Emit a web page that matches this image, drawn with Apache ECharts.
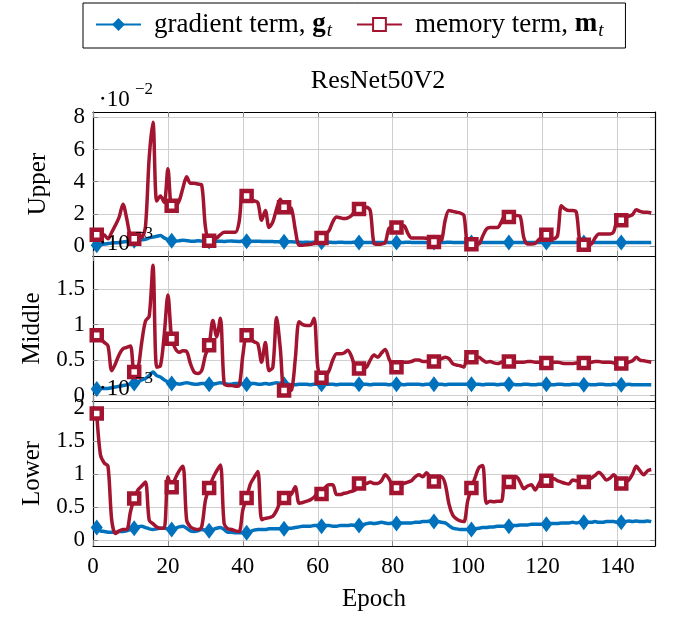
<!DOCTYPE html>
<html>
<head>
<meta charset="utf-8">
<script src="https://cdn.jsdelivr.net/npm/echarts@6/dist/echarts.min.js"></script>
<style>html,body{margin:0;padding:0;background:#fff}#c{width:673px;height:620px}</style>
</head>
<body>
<div id="c"></div>
<script>
// Epochs 1..149, markers every 10 epochs (1, 11, 21, ...)
const epochStart = 1;
const xTicks = [0, 20, 40, 60, 80, 100, 120, 140];
const upperTicks = [0, 2, 4, 6, 8];
const middleTicks = [0, 0.5, 1, 1.5];
const lowerTicks = [0, 0.5, 1, 1.5, 2];
const panelNames = ['Upper', 'Middle', 'Lower'];
const scaleLabels = ['\u22C510', '\u22C510', '\u22C510'];
const scaleExps = ['\u22122', '\u22123', '\u22123'];

// Upper panel (x 1e-2)
const upperGrad = [0.05,0.1,0.12,0.15,0.18,0.2,0.22,0.25,0.27,0.3,0.32,0.35,0.38,0.42,0.5,0.55,0.6,0.65,0.5,0.4,
0.32,0.3,0.32,0.35,0.33,0.3,0.3,0.32,0.3,0.28,0.27,0.28,0.3,0.29,0.28,0.3,0.31,0.29,0.28,0.3,
0.29,0.28,0.29,0.3,0.28,0.27,0.28,0.27,0.26,0.27,0.26,0.25,0.26,0.24,0.23,0.22,0.23,0.22,0.23,0.24,
0.23,0.22,0.23,0.22,0.22,0.23,0.22,0.21,0.22,0.23,0.22,0.22,0.21,0.22,0.22,0.21,0.22,0.22,0.21,0.22,
0.22,0.21,0.22,0.23,0.22,0.21,0.22,0.22,0.21,0.21,0.22,0.22,0.21,0.22,0.23,0.22,0.21,0.22,0.21,0.21,
0.22,0.21,0.22,0.22,0.21,0.22,0.22,0.21,0.21,0.22,0.22,0.21,0.22,0.22,0.21,0.21,0.22,0.22,0.21,0.21,
0.22,0.22,0.21,0.22,0.21,0.22,0.22,0.21,0.21,0.22,0.22,0.21,0.22,0.22,0.21,0.21,0.22,0.22,0.21,0.21,
0.22,0.21,0.22,0.22,0.21,0.22,0.22,0.21,0.22];
const upperMem = [0.7,0.72,0.68,0.45,0.85,1.3,1.8,2.6,1.7,0.6,
0.45,0.75,0.55,1.2,5.5,7.7,2.8,3.1,2.7,4.8,
2.5,2.5,2.8,3.6,4.3,3.9,3.9,3.85,3.8,1.2,
0.33,0.4,0.5,0.7,0.85,0.85,0.85,0.85,1.5,3.45,
3.1,2.9,2.8,2.7,1.6,2.2,1.15,1.5,2.3,2.9,
2.4,2.4,2.3,1.0,0.05,0.05,0.08,0.1,0.15,0.4,
0.5,0.7,0.95,1.5,1.8,1.75,1.7,1.75,1.9,2.2,
2.3,2.35,2.4,2.2,0.15,0.1,0.12,0.2,1.1,1.15,
1.15,1.2,1.25,0.8,0.5,0.5,0.5,0.5,0.48,0.45,
0.25,0.28,0.33,1.6,2.2,2.15,2.1,2.05,1.9,0.12,
0.1,0.1,0.12,0.6,1.05,1.15,1.15,1.15,1.5,1.9,
1.8,1.85,1.9,1.85,0.5,0.12,0.12,0.15,0.4,0.55,
0.7,0.5,0.45,0.65,2.5,2.3,2.2,2.2,2.1,0.2,
0.08,0.1,0.12,0.5,0.75,0.75,0.75,0.75,0.9,1.6,
1.6,1.75,1.85,1.95,2.25,2.15,2.1,2.1,2.05];

// Middle panel (x 1e-3)
const middleGrad = [0.09,0.1,0.1,0.1,0.11,0.12,0.13,0.14,0.15,0.16,0.17,0.19,0.22,0.24,0.28,0.33,0.28,0.26,0.22,0.19,
0.17,0.17,0.16,0.17,0.18,0.17,0.16,0.16,0.17,0.17,0.16,0.16,0.17,0.18,0.17,0.16,0.16,0.17,0.17,0.16,
0.16,0.17,0.17,0.16,0.16,0.17,0.16,0.17,0.18,0.17,0.16,0.16,0.15,0.15,0.16,0.16,0.16,0.15,0.16,0.16,
0.16,0.16,0.16,0.16,0.15,0.16,0.16,0.16,0.16,0.15,0.16,0.16,0.16,0.15,0.16,0.16,0.16,0.16,0.15,0.16,
0.16,0.16,0.15,0.16,0.16,0.16,0.16,0.15,0.16,0.16,0.16,0.16,0.16,0.15,0.16,0.16,0.16,0.16,0.16,0.16,
0.16,0.16,0.16,0.15,0.16,0.16,0.16,0.15,0.16,0.16,0.16,0.16,0.15,0.15,0.16,0.16,0.15,0.15,0.16,0.16,
0.16,0.15,0.15,0.16,0.16,0.15,0.15,0.16,0.16,0.15,0.15,0.16,0.15,0.15,0.16,0.16,0.15,0.15,0.16,0.15,
0.15,0.15,0.16,0.15,0.15,0.15,0.15,0.15,0.15];
const middleMem = [0.85,0.8,0.75,0.7,0.35,0.45,0.58,0.66,0.68,0.7,
0.33,0.38,0.75,1.05,1.12,1.84,0.4,0.42,0.85,1.42,
0.8,0.66,0.61,0.63,0.62,0.45,0.33,0.31,0.35,0.57,
0.71,1.06,0.83,1.09,0.17,0.14,0.14,0.13,0.14,0.57,
0.85,0.8,0.76,0.73,0.47,0.75,0.35,0.4,1.1,0.66,
0.07,0.07,0.08,0.52,1.04,1.0,0.99,0.99,1.09,0.4,
0.25,0.27,0.35,0.5,0.59,0.59,0.6,0.64,0.55,0.4,
0.38,0.38,0.4,0.5,0.57,0.54,0.6,0.65,0.52,0.42,
0.4,0.45,0.47,0.47,0.48,0.5,0.5,0.48,0.48,0.48,
0.48,0.5,0.52,0.54,0.52,0.45,0.43,0.42,0.4,0.59,
0.54,0.54,0.54,0.5,0.47,0.48,0.46,0.45,0.47,0.48,
0.48,0.48,0.47,0.47,0.47,0.48,0.48,0.47,0.47,0.46,
0.46,0.46,0.47,0.47,0.46,0.45,0.45,0.45,0.46,0.46,
0.46,0.46,0.47,0.48,0.48,0.47,0.47,0.47,0.46,0.45,
0.45,0.46,0.47,0.49,0.54,0.5,0.49,0.48,0.47];

// Lower panel (x 1e-3)
const lowerGrad = [0.19,0.14,0.13,0.12,0.12,0.12,0.13,0.13,0.14,0.16,0.18,0.2,0.21,0.19,0.17,0.16,0.17,0.18,0.18,0.17,
0.16,0.18,0.2,0.21,0.18,0.14,0.13,0.14,0.16,0.15,0.14,0.16,0.18,0.19,0.16,0.12,0.12,0.11,0.11,0.11,
0.11,0.13,0.15,0.16,0.16,0.16,0.17,0.17,0.17,0.17,0.17,0.18,0.18,0.19,0.2,0.21,0.21,0.21,0.22,0.22,
0.21,0.22,0.22,0.21,0.21,0.22,0.22,0.22,0.23,0.22,0.22,0.23,0.25,0.26,0.25,0.26,0.27,0.26,0.25,0.26,
0.25,0.26,0.26,0.26,0.26,0.27,0.27,0.28,0.28,0.29,0.28,0.28,0.27,0.26,0.22,0.18,0.17,0.16,0.16,0.16,
0.16,0.17,0.18,0.19,0.19,0.2,0.2,0.21,0.21,0.21,0.21,0.22,0.22,0.23,0.23,0.23,0.24,0.24,0.24,0.24,
0.24,0.25,0.25,0.25,0.26,0.26,0.26,0.27,0.26,0.27,0.27,0.27,0.27,0.28,0.27,0.27,0.28,0.28,0.28,0.27,
0.27,0.28,0.29,0.28,0.29,0.28,0.28,0.29,0.28];
const lowerMem = [1.92,1.29,1.17,1.12,0.3,0.1,0.14,0.16,0.16,0.43,
0.63,0.76,0.82,0.88,0.3,0.25,0.2,0.18,0.18,0.96,
0.8,0.94,1.05,1.12,0.3,0.2,0.17,0.16,0.2,0.6,
0.79,0.94,1.05,1.14,0.25,0.17,0.16,0.14,0.13,0.46,
0.64,0.85,0.95,1.04,0.31,0.33,0.34,0.36,0.45,0.58,
0.64,0.66,0.7,0.81,0.56,0.57,0.59,0.61,0.65,0.71,
0.7,0.8,0.84,0.84,0.69,0.69,0.71,0.72,0.74,0.76,
0.86,0.86,0.86,0.88,0.86,0.86,0.9,0.99,0.93,0.82,
0.79,0.83,0.86,0.88,0.9,0.96,0.99,0.96,1.02,0.95,
0.89,0.92,0.96,0.85,0.55,0.38,0.32,0.29,0.28,0.59,
0.79,0.95,1.1,1.13,0.56,0.59,0.58,0.59,0.59,0.94,
0.88,0.92,0.96,0.88,0.78,0.82,0.84,0.76,0.85,0.94,
0.9,0.92,0.93,0.9,0.88,0.86,0.85,0.91,0.9,0.89,
0.88,0.9,0.94,0.98,1.03,0.98,0.91,0.94,0.99,0.92,
0.86,0.88,0.91,1.0,1.12,1.05,0.99,1.05,1.07];

const BLUE = '#0072BD', RED = '#A2142F';
const FONT = '"Liberation Serif", "DejaVu Serif", serif';
const TICK_FS = 23, NAME_FS = 25;
const panels = [
  {grad: upperGrad, mem: upperMem, ticks: upperTicks, min: -0.625, max: 8.33, top: 112, height: 144},
  {grad: middleGrad, mem: middleMem, ticks: middleTicks, min: -0.078, max: 1.97, top: 256, height: 145},
  {grad: lowerGrad, mem: lowerMem, ticks: lowerTicks, min: -0.09, max: 2.11, top: 401, height: 145}
];

function toData(arr) {
  return arr.map((v, i) => {
    const item = {value: [epochStart + i, v]};
    if (i % 10 !== 0) item.symbol = 'none';
    return item;
  });
}

const grids = [], xAxes = [], yAxes = [], series = [], graphics = [];
const gridColor = '#cfcfcf', tickColor = '#888';
panels.forEach((p, k) => {
  grids.push({left: 93, right: 18, top: p.top, height: p.height, containLabel: false});
  const last = k === panels.length - 1;
  xAxes.push({
    type: 'value', gridIndex: k, min: 0, max: 150, position: 'bottom',
    name: last ? 'Epoch' : '', nameLocation: 'middle', nameGap: 41,
    nameTextStyle: {fontFamily: FONT, fontSize: NAME_FS, color: '#000'},
    axisLine: {show: true, onZero: false, lineStyle: {color: '#000', width: 1.2}},
    axisTick: {show: true, inside: true, length: 5, customValues: xTicks, lineStyle: {color: tickColor}},
    axisLabel: {show: last, customValues: xTicks, fontFamily: FONT, fontSize: TICK_FS, color: '#000', margin: 9},
    splitLine: {show: true, lineStyle: {color: gridColor, width: 1}}
  });
  xAxes.push({
    type: 'value', gridIndex: k, min: 0, max: 150, position: 'top',
    axisLine: {show: true, onZero: false, lineStyle: {color: '#000', width: 1.2}},
    axisTick: {show: true, inside: true, length: 5, customValues: xTicks, lineStyle: {color: tickColor}},
    axisLabel: {show: false}, splitLine: {show: false}
  });
  yAxes.push({
    type: 'value', gridIndex: k, min: p.min, max: p.max, position: 'left',
    name: panelNames[k], nameLocation: 'middle', nameGap: 42,
    nameTextStyle: {fontFamily: FONT, fontSize: NAME_FS, color: '#000'},
    axisLine: {show: true, onZero: false, lineStyle: {color: '#000', width: 1.2}},
    axisTick: {show: true, inside: true, length: 5, customValues: p.ticks, lineStyle: {color: tickColor}},
    axisLabel: {customValues: p.ticks, fontFamily: FONT, fontSize: TICK_FS, color: '#000', margin: 8,
      formatter: v => String(v)},
    splitLine: {show: true, lineStyle: {color: gridColor, width: 1}}
  });
  yAxes.push({
    type: 'value', gridIndex: k, min: p.min, max: p.max, position: 'right',
    axisLine: {show: true, onZero: false, lineStyle: {color: '#000', width: 1.2}},
    axisTick: {show: true, inside: true, length: 5, customValues: p.ticks, lineStyle: {color: tickColor}},
    axisLabel: {show: false}, splitLine: {show: false}
  });
  const xi = k * 2, yi = k * 2;
  series.push({
    name: 'gradient', type: 'line', xAxisIndex: xi, yAxisIndex: yi,
    data: toData(p.grad), smooth: 0.3, showAllSymbol: true,
    symbol: 'diamond', symbolSize: [12, 16],
    lineStyle: {color: BLUE, width: 3.5}, itemStyle: {color: BLUE},
    emphasis: {disabled: true}, z: 2
  });
  series.push({
    name: 'memory', type: 'line', xAxisIndex: xi, yAxisIndex: yi,
    data: toData(p.mem), smooth: 0.3, showAllSymbol: true,
    symbol: 'rect', symbolSize: 10,
    lineStyle: {color: RED, width: 3.5}, itemStyle: {color: '#fff', borderColor: RED, borderWidth: 4.5},
    emphasis: {disabled: true}, z: 3
  });
  graphics.push({type: 'text', left: 99, top: p.top - 24, z: 100,
    style: {text: scaleLabels[k], font: TICK_FS + 'px ' + FONT, fill: '#000'}});
  graphics.push({type: 'text', left: 135, top: p.top - 31, z: 100,
    style: {text: scaleExps[k], font: '17px ' + FONT, fill: '#000'}});
});

const chart = echarts.init(document.getElementById('c'), null, {renderer: 'canvas'});
chart.setOption({
  animation: false,
  backgroundColor: '#fff',
  title: {text: 'ResNet50V2', left: 373, top: 63, textAlign: 'center',
    textStyle: {fontFamily: FONT, fontSize: 26, fontWeight: 'normal', color: '#000'}},
  legend: {
    data: ['gradient', 'memory'], left: 83, top: 3, orient: 'horizontal',
    padding: [8, 22, 8, 12], itemGap: 24, itemWidth: 45, itemHeight: 16,
    borderColor: '#000', borderWidth: 1, selectedMode: false,
    formatter: n => n === 'gradient' ? '{n|gradient term, }{b|g}{s|t}' : '{n|memory term, }{b|m}{s|t}',
    textStyle: {fontFamily: FONT, fontSize: 27, color: '#000', padding: [0, 0, 0, 8],
      rich: {
        n: {fontFamily: FONT, fontSize: 27, color: '#000'},
        b: {fontFamily: FONT, fontSize: 27, fontWeight: 'bold', color: '#000'},
        s: {fontFamily: FONT, fontSize: 19, fontStyle: 'italic', color: '#000', padding: [12, 0, 0, 1]}
      }}
  },
  grid: grids, xAxis: xAxes, yAxis: yAxes, series: series, graphic: graphics
});
</script>
</body>
</html>
